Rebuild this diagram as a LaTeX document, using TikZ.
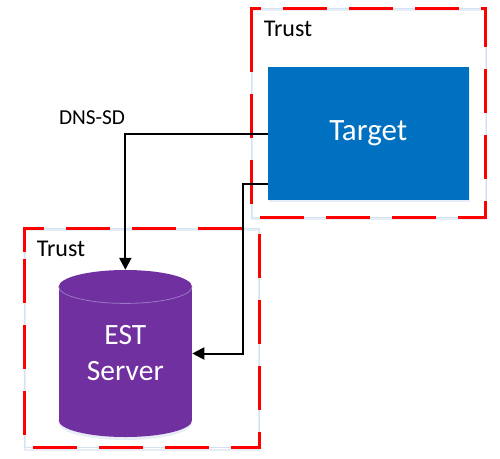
\documentclass[tikz,border=0pt]{standalone}
\usepackage{fontspec}
\setmainfont{Carlito}
\usetikzlibrary{arrows.meta}
\definecolor{boxblue}{HTML}{0070C0}
\definecolor{srvpurple}{HTML}{7030A0}
\definecolor{srvrim}{HTML}{9A78C4}
\definecolor{paleedge}{HTML}{D3E3F2}
\definecolor{softshadow}{HTML}{E6EDF6}
\tikzset{
  x=1pt,y=-1pt,
  trustedge/.style={draw=paleedge,line width=0.8pt},
  trustdash/.style={draw=red,line width=3pt,dash pattern=on 44pt off 22pt,line cap=butt,line join=miter},
  softedge/.style={draw=softshadow,line width=2pt},
  trustlabel/.style={font=\fontsize{24}{26}\selectfont,text=black,inner sep=0pt,anchor=center},
  targetlabel/.style={font=\fontsize{31}{36}\selectfont,text=white,align=center},
  serverlabel/.style={font=\fontsize{29.5}{36}\selectfont,text=white,align=center},
  targetbox/.style={fill=boxblue,draw=none,minimum width=200.5pt,minimum height=133pt,inner sep=0pt},
  serverbox/.style={draw=none,minimum width=133.5pt,minimum height=167pt,inner sep=0pt},
  link/.style={draw=black,line width=2pt,-{Triangle[length=12pt,width=12pt]}},
}
\begin{document}
\begin{tikzpicture}
\useasboundingbox (0,0) rectangle (500,458);
% target trust zone
\draw[softedge] (252,10) rectangle (486,219);
\draw[trustedge] (251,8) rectangle (486,217);
\draw[trustdash] (251,42.3) -- (251,8) -- (485.7,8) -- (485.7,217.3) -- (251,217.3) -- cycle;
\node[trustlabel] (trustA) at (288,29) {Trust};
% server trust zone
\draw[softedge] (25,230) rectangle (259,450);
\draw[trustedge] (24.3,228.3) rectangle (259,447.7);
\draw[trustdash] (24.3,252.3) -- (24.3,228.3) -- (259,228.3) -- (259,447.7) -- (24.3,447.7) -- cycle;
\node[trustlabel] (trustB) at (61,249) {Trust};
% target
\fill[softshadow] (269,69) rectangle (470,202);
\node[targetbox,targetlabel] (target) at (368.25,133.5) {Target};
\coordinate (targetlow) at (268,184);
\node[font=\fontsize{21.3}{24}\selectfont,inner sep=0pt] (dns) at (92,118) {DNS-SD};
% server cylinder
\fill[softshadow] (125.35,423) ellipse[x radius=67,y radius=17];
\fill[srvpurple] (125.35,286.7) ellipse[x radius=66.65,y radius=16.7];
\fill[srvpurple] (58.7,286.7) rectangle (192,420.3);
\fill[srvpurple] (125.35,420.3) ellipse[x radius=66.65,y radius=16.7];
\draw[srvrim,line width=0.8pt] (58.7,286.7) .. controls (58.7,295.9) and (88.5,303.4) .. (125.35,303.4) .. controls (162.2,303.4) and (192,295.9) .. (192,286.7);
\node[serverbox,serverlabel] (server) at (125.35,353.5) {EST\\Server};
% connectors
\draw[link] (target.west) -| (server.north);
\draw[link] (targetlow) -- (243,184) |- (server.east);
\end{tikzpicture}
\end{document}
